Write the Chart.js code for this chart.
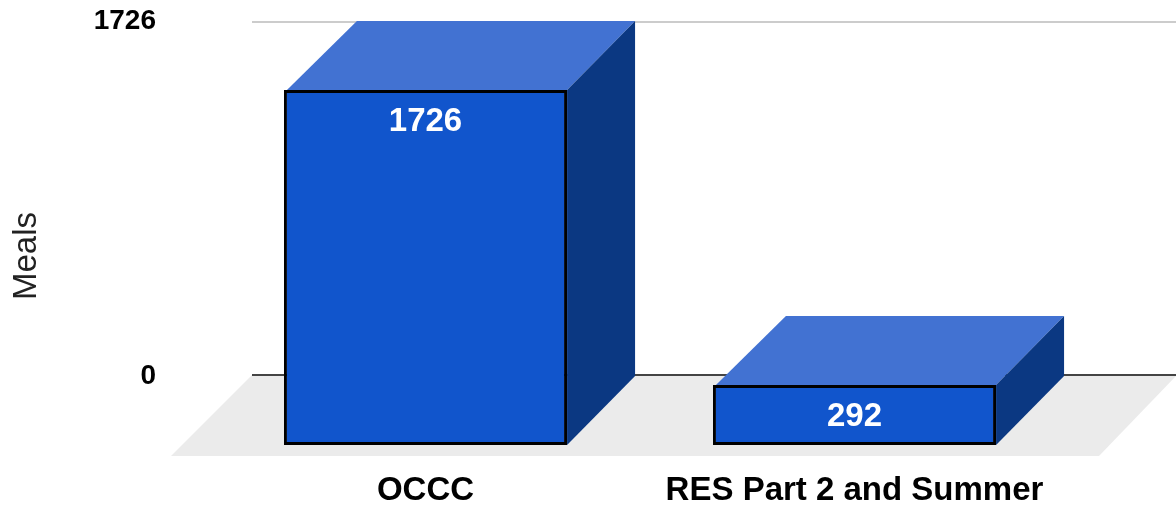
<!DOCTYPE html>
<html>
<head>
<meta charset="utf-8">
<style>html,body{margin:0;padding:0;background:#fff;overflow:hidden}canvas{display:block}</style>
<script src="https://cdn.jsdelivr.net/npm/chart.js@4/dist/chart.umd.min.js"></script>
</head>
<body>
<canvas id="c" width="1176" height="508"></canvas>
<script>
const categories = ["OCCC", "RES Part 2 and Summer"];
const meals = [1726, 292];
const tickValues = [0, 1726];
const axisTitle = "Meals";

const FONT = "Arial, 'Liberation Sans', sans-serif";
const DEPTH_X = 68, DEPTH_Y = 69;

function poly(ctx, pts, fill) {
  ctx.beginPath();
  pts.forEach((p, i) => i ? ctx.lineTo(p[0], p[1]) : ctx.moveTo(p[0], p[1]));
  ctx.closePath();
  ctx.fillStyle = fill;
  ctx.fill();
}

const box3d = {
  id: "box3d",
  beforeDatasetsDraw(chart) {
    const ctx = chart.ctx, y = chart.scales.y;
    const zero = y.getPixelForValue(0) - 1;
    ctx.save();
    // floor
    const backL = 252, backR = 1177, frontY = zero + 81;
    poly(ctx, [[backL, zero], [backL - 81, frontY], [backR - 78, frontY], [backR, zero]], "#ebebeb");
    // back-wall gridlines
    tickValues.forEach(v => {
      const py = Math.round(y.getPixelForValue(v)) + (v === 0 ? -1 : 1);
      ctx.strokeStyle = v === 0 ? "#444444" : "#cccccc";
      ctx.lineWidth = 2;
      ctx.beginPath();
      ctx.moveTo(backL, py);
      ctx.lineTo(1176, py);
      ctx.stroke();
    });
    // top and side faces
    chart.getDatasetMeta(0).data.forEach(b => {
      const half = b.width / 2, L = b.x - half, R = b.x + half;
      const fTop = b.y + DEPTH_Y, fBot = b.base + DEPTH_Y;
      poly(ctx, [[L + 3, fTop], [L + 5 + DEPTH_X, fTop - DEPTH_Y], [R + DEPTH_X, fTop - DEPTH_Y], [R, fTop]], "#4272d2");
      poly(ctx, [[R, fTop], [R + DEPTH_X, fTop - DEPTH_Y], [R + DEPTH_X, fBot - DEPTH_Y], [R, fBot]], "#0b3882");
    });
    ctx.restore();
    // front faces are the library's own bars, moved forward
    ctx.save();
    ctx.translate(0, DEPTH_Y);
  },
  afterDatasetsDraw(chart) {
    const ctx = chart.ctx;
    ctx.restore();
    ctx.save();
    ctx.fillStyle = "#ffffff";
    ctx.font = "bold 33px " + FONT;
    ctx.textAlign = "center";
    ctx.textBaseline = "middle";
    chart.getDatasetMeta(0).data.forEach((b, i) => {
      ctx.fillText(String(meals[i]), b.x, b.y + DEPTH_Y + 32);
    });
    ctx.restore();
  },
  afterDraw(chart) {
    const ctx = chart.ctx;
    ctx.save();
    ctx.translate(27, 256);
    ctx.rotate(-Math.PI / 2);
    ctx.fillStyle = "#222222";
    ctx.font = "33px " + FONT;
    ctx.textAlign = "center";
    ctx.textBaseline = "middle";
    ctx.fillText(axisTitle, 0, 0);
    ctx.restore();
  }
};

new Chart(document.getElementById("c"), {
  type: "bar",
  data: {
    labels: categories,
    datasets: [{
      label: axisTitle,
      data: meals,
      backgroundColor: "#1155cc",
      borderColor: "#000000",
      borderWidth: 3,
      borderSkipped: false,
      barPercentage: 0.66,
      categoryPercentage: 1,
      clip: false
    }]
  },
  options: {
    responsive: false,
    animation: false,
    layout: { padding: { top: 21, right: 107, left: 0, bottom: 0 } },
    plugins: { legend: { display: false }, tooltip: { enabled: false } },
    scales: {
      x: {
        grid: { display: false, drawTicks: false },
        border: { display: false },
        ticks: { color: "#000", padding: 95, maxRotation: 0, autoSkip: false, font: { family: FONT, size: 33, weight: "bold" } },
        afterFit(s) { s.height = 132; }
      },
      y: {
        min: 0,
        max: 1726,
        grid: { display: false, drawTicks: false },
        border: { display: false },
        afterBuildTicks(s) { s.ticks = tickValues.map(v => ({ value: v })); },
        ticks: { color: "#000", padding: 55, callback: v => String(v), font: { family: FONT, size: 28, weight: "bold" } },
        afterFit(s) { s.width = 211; s.paddingTop = 0; s.paddingBottom = 0; }
      }
    }
  },
  plugins: [box3d]
});
</script>
</body>
</html>
